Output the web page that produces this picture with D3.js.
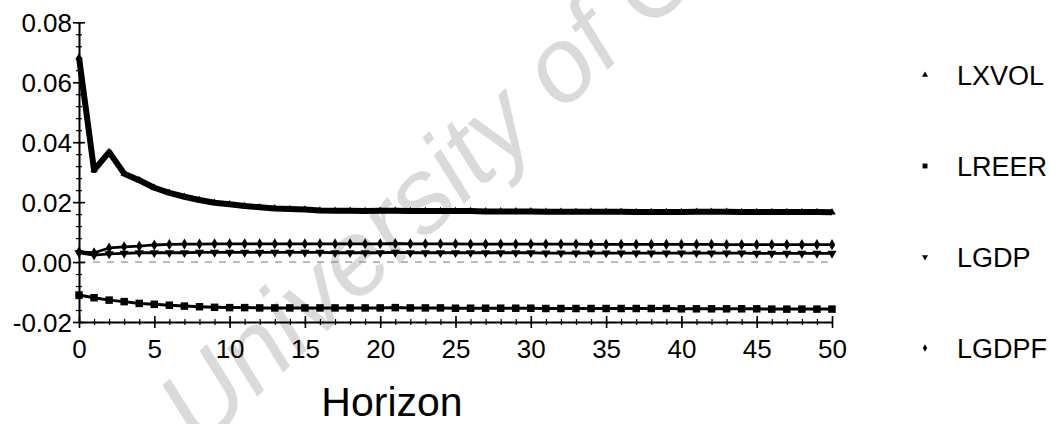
<!DOCTYPE html>
<html>
<head>
<meta charset="utf-8">
<script src="https://cdn.jsdelivr.net/npm/d3@7"></script>
<style>
  body { margin: 0; background: #fff; }
  svg { display: block; }
  text { font-family: "Liberation Sans", Arial, sans-serif; }
</style>
</head>
<body>
<div id="chart"></div>
<script>
// horizon steps
var horizon = d3.range(0, 51);

// series values
var lxvol = [0.0683, 0.0307, 0.0367, 0.0295, 0.0273, 0.0248, 0.0231, 0.0218, 0.0207, 0.0198,
  0.0193, 0.0187, 0.0183, 0.0179, 0.0177, 0.0175, 0.0172, 0.0171, 0.0171, 0.0170,
  0.0171, 0.0171, 0.0170, 0.0170, 0.0170, 0.0170, 0.0170, 0.0169, 0.0169, 0.0169,
  0.0169, 0.0168, 0.0168, 0.0168, 0.0168, 0.0168, 0.0168, 0.0167, 0.0167, 0.0167,
  0.0167, 0.0168, 0.0168, 0.0168, 0.0167, 0.0167, 0.0167, 0.0167, 0.0167, 0.0167, 0.0166];

var lreer = [-0.0110, -0.0119, -0.0127, -0.0132, -0.0138, -0.0141, -0.0144, -0.0147, -0.0149, -0.0151,
  -0.0152, -0.0152, -0.0153, -0.0153, -0.0153, -0.0153, -0.0153, -0.0153, -0.0153, -0.0153,
  -0.0153, -0.0152, -0.0153, -0.0153, -0.0153, -0.0154, -0.0154, -0.0154, -0.0154, -0.0154,
  -0.0154, -0.0155, -0.0155, -0.0155, -0.0155, -0.0155, -0.0155, -0.0155, -0.0155, -0.0155,
  -0.0156, -0.0156, -0.0156, -0.0156, -0.0156, -0.0156, -0.0157, -0.0157, -0.0157, -0.0157, -0.0157];

var lgdp = [0.0031, 0.0023, 0.0027, 0.0029, 0.0031, 0.0031, 0.0031, 0.0031, 0.0032, 0.0032,
  0.0032, 0.0032, 0.0032, 0.0032, 0.0032, 0.0032, 0.0032, 0.0031, 0.0031, 0.0031,
  0.0031, 0.0032, 0.0031, 0.0031, 0.0031, 0.0031, 0.0031, 0.0031, 0.0031, 0.0031,
  0.0031, 0.0030, 0.0030, 0.0030, 0.0030, 0.0030, 0.0030, 0.0030, 0.0030, 0.0030,
  0.0030, 0.0030, 0.0030, 0.0030, 0.0030, 0.0029, 0.0029, 0.0029, 0.0029, 0.0029, 0.0029];

var lgdpf = [0.0034, 0.0031, 0.0047, 0.0051, 0.0053, 0.0057, 0.0059, 0.0060, 0.0060, 0.0061,
  0.0061, 0.0061, 0.0061, 0.0061, 0.0061, 0.0061, 0.0061, 0.0061, 0.0061, 0.0061,
  0.0061, 0.0062, 0.0061, 0.0061, 0.0061, 0.0061, 0.0060, 0.0060, 0.0060, 0.0060,
  0.0060, 0.0060, 0.0060, 0.0060, 0.0059, 0.0059, 0.0059, 0.0059, 0.0059, 0.0059,
  0.0059, 0.0059, 0.0059, 0.0058, 0.0058, 0.0058, 0.0058, 0.0058, 0.0058, 0.0058, 0.0058];

var yTicks = [-0.02, 0.00, 0.02, 0.04, 0.06, 0.08];
var xTicks = [0, 5, 10, 15, 20, 25, 30, 35, 40, 45, 50];
var seriesNames = ["LXVOL", "LREER", "LGDP", "LGDPF"];

var width = 1051, height = 424;
var fontName = "Liberation Sans, Arial, sans-serif";

var svg = d3.select("#chart").append("svg")
  .attr("width", width)
  .attr("height", height);

//watermark behind everything
svg.append("text")
  .attr("transform", "translate(200,450) rotate(-43)")
  .attr("font-family", fontName)
  .attr("font-size", 106)
  .attr("font-style", "italic")
  .attr("fill", "#dadada")
  .text("University of Cape Town");

var x = d3.scaleLinear().domain([0, 50]).range([79, 832]);
var y = d3.scaleLinear().domain([-0.02, 0.08]).range([322, 22.3]);

//zero reference line
svg.append("line")
  .attr("x1", x(0)).attr("x2", x(50))
  .attr("y1", y(0)).attr("y2", y(0))
  .attr("stroke", "#777")
  .attr("stroke-width", 1)
  .attr("stroke-dasharray", "7,7");

//minor ticks
var yMinor = svg.append("g")
  .attr("transform", "translate(" + x(0) + ",0)")
  .call(d3.axisLeft(y).tickValues(d3.range(-0.02, 0.0801, 0.004)).tickSize(3).tickFormat(""));
yMinor.select(".domain").remove();
yMinor.selectAll("line").attr("x1", 3).attr("stroke-width", 1.2);

var xMinor = svg.append("g")
  .attr("transform", "translate(0," + y(-0.02) + ")")
  .call(d3.axisBottom(x).tickValues(horizon).tickSize(3).tickFormat(""));
xMinor.select(".domain").remove();
xMinor.selectAll("line").attr("y1", -3).attr("stroke-width", 1.2);

//major axes
var yAxis = svg.append("g")
  .attr("transform", "translate(" + x(0) + ",0)")
  .call(d3.axisLeft(y).tickValues(yTicks).tickSize(6).tickSizeOuter(0)
    .tickFormat(function(d){ return d3.format(".2f")(d).replace("−", "-"); }));
yAxis.attr("font-family", fontName);
yAxis.select(".domain").attr("stroke-width", 2);
yAxis.selectAll("line").attr("x1", 6).attr("stroke-width", 1.6);
yAxis.selectAll("text")
  .attr("font-size", 26)
  .attr("fill", "#000")
  .attr("x", -7)
  .attr("dy", "0.36em");

var xAxis = svg.append("g")
  .attr("transform", "translate(0," + y(-0.02) + ")")
  .call(d3.axisBottom(x).tickValues(xTicks).tickSize(6).tickSizeOuter(0));
xAxis.attr("font-family", fontName);
xAxis.select(".domain").attr("stroke-width", 2);
xAxis.selectAll("line").attr("y1", -6).attr("stroke-width", 1.6);
xAxis.selectAll("text")
  .attr("font-size", 26)
  .attr("fill", "#000")
  .attr("y", 36)
  .attr("dy", 0);

//axis title
svg.append("text")
  .attr("x", 392)
  .attr("y", 416)
  .attr("text-anchor", "middle")
  .attr("font-family", fontName)
  .attr("font-size", 41)
  .text("Horizon");

//series lines
var line = d3.line()
  .x(function(d, i){ return x(horizon[i]); })
  .y(function(d){ return y(d); });

var series = [
  {name: "LXVOL", values: lxvol, width: 6, symbol: d3.symbolTriangle, size: 24, rot: 0},
  {name: "LREER", values: lreer, width: 3, symbol: d3.symbolSquare, size: 56, rot: 0},
  {name: "LGDP", values: lgdp, width: 2.8, symbol: d3.symbolTriangle, size: 36, rot: 180},
  {name: "LGDPF", values: lgdpf, width: 2.8, symbol: d3.symbolDiamond, size: 36, rot: 0}
];

series.forEach(function(s){
  svg.append("path")
    .attr("d", line(s.values))
    .attr("fill", "none")
    .attr("stroke", "#000")
    .attr("stroke-width", s.width)
    .attr("stroke-linejoin", "round");

  svg.append("g").selectAll("path")
    .data(s.values)
    .enter().append("path")
    .attr("d", d3.symbol().type(s.symbol).size(s.size))
    .attr("transform", function(d, i){
      return "translate(" + x(horizon[i]) + "," + y(d) + ") rotate(" + s.rot + ")";
    })
    .attr("fill", "#000");
});

//legend
var legend = svg.append("g").selectAll("g")
  .data(series)
  .enter().append("g")
  .attr("transform", function(d, i){ return "translate(925," + (75 + i * 91) + ")"; });

legend.append("path")
  .attr("d", function(d){ return d3.symbol().type(d.symbol).size(d.name === "LREER" ? 24 : 16)(); })
  .attr("transform", function(d){ return "rotate(" + d.rot + ")"; })
  .attr("fill", "#000");

legend.append("text")
  .attr("x", 32)
  .attr("y", 10)
  .attr("font-family", fontName)
  .attr("font-size", 27)
  .text(function(d, i){ return seriesNames[i]; });
</script>
</body>
</html>
